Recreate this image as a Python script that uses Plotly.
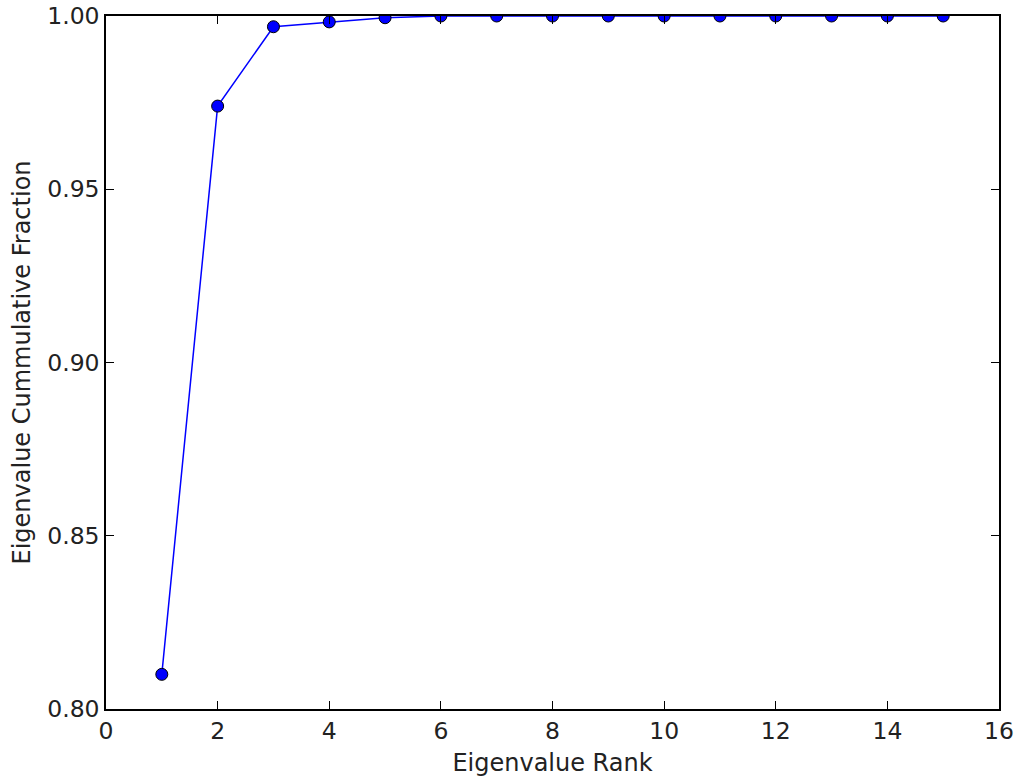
import plotly.graph_objects as go

rank = list(range(1, 16))
cum_fraction = [0.810, 0.974, 0.9969, 0.9983, 0.9995, 1.0, 1.0, 1.0, 1.0, 1.0, 1.0, 1.0, 1.0, 1.0, 1.0]

x_ticks = [0, 2, 4, 6, 8, 10, 12, 14, 16]
y_ticks = [0.80, 0.85, 0.90, 0.95, 1.00]

fig = go.Figure()
fig.add_trace(go.Scatter(
    x=rank, y=cum_fraction, mode="lines+markers",
    line=dict(color="#0000ff", width=1.5),
    marker=dict(color="#0000ff", size=12, line=dict(color="black", width=1)),
    cliponaxis=True, showlegend=False, hoverinfo="skip",
))

font = "DejaVu Sans"
axis_common = dict(
    showgrid=False, zeroline=False, showline=True, linecolor="black", linewidth=1.5,
    mirror="allticks", ticks="inside", ticklen=8, tickwidth=1, tickcolor="black",
    tickfont=dict(family=font, size=23.5, color="#222222"), automargin=False,
    ticklabeloverflow="allow",
)
fig.update_xaxes(range=[0, 16], tickvals=x_ticks, ticktext=[str(v) for v in x_ticks],
                 title=dict(text="Eigenvalue Rank", font=dict(family=font, size=24, color="#222222"), standoff=10),
                 **axis_common)
fig.update_yaxes(range=[0.80, 1.00], tickvals=y_ticks, ticktext=[f"{v:.2f}" for v in y_ticks],
                 title=dict(text="Eigenvalue Cummulative Fraction", font=dict(family=font, size=24, color="#222222"), standoff=10),
                 **axis_common)
fig.update_layout(
    width=1016, height=780,
    margin=dict(l=106, r=17, t=16, b=71),
    paper_bgcolor="white", plot_bgcolor="white",
    font=dict(family=font),
)
# remove the browser's default body margin so the figure fills the window exactly
fig.write_html("out.html", config={"displayModeBar": False},
               post_script="document.body.style.margin='0';document.body.style.overflow='hidden';")
